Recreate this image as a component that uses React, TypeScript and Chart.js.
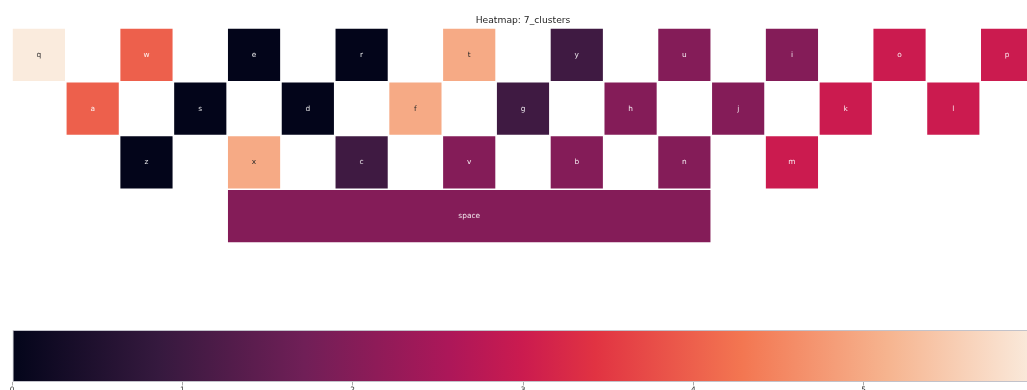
import React, { useEffect, useRef } from 'react';
import { Chart, registerables } from 'chart.js';

Chart.register(...registerables);

// Keyboard rows shown in the heatmap (top to bottom)
const rowNames = ['top', 'home', 'bottom', 'space'];

// One entry per key: label, row, starting column, width in columns, cluster id
const keyLabels = [
  'q', 'w', 'e', 'r', 't', 'y', 'u', 'i', 'o', 'p',
  'a', 's', 'd', 'f', 'g', 'h', 'j', 'k', 'l',
  'z', 'x', 'c', 'v', 'b', 'n', 'm',
  'space',
];
const keyRows = [
  0, 0, 0, 0, 0, 0, 0, 0, 0, 0,
  1, 1, 1, 1, 1, 1, 1, 1, 1,
  2, 2, 2, 2, 2, 2, 2,
  3,
];
const keyCols = [
  0, 2, 4, 6, 8, 10, 12, 14, 16, 18,
  1, 3, 5, 7, 9, 11, 13, 15, 17,
  2, 4, 6, 8, 10, 12, 14,
  4,
];
const keySpans = [
  1, 1, 1, 1, 1, 1, 1, 1, 1, 1,
  1, 1, 1, 1, 1, 1, 1, 1, 1,
  1, 1, 1, 1, 1, 1, 1,
  9,
];
const keyClusters = [
  6, 4, 0, 0, 5, 1, 2, 2, 3, 3,
  4, 0, 0, 5, 1, 2, 2, 3, 3,
  0, 5, 1, 2, 2, 2, 3,
  2,
];

const columnCount = 19;
const clusterMin = 0;
const clusterMax = 6;
const colorbarTicks = [0, 1, 2, 3, 4, 5];
const titleText = 'Heatmap: 7_clusters';

// "rocket" colour map as positioned stops
const rocketStops: [number, string][] = [
  [0, '#03051A'],
  [0.143, '#35193E'],
  [0.286, '#701F57'],
  [0.429, '#AD1759'],
  [0.5, '#CB1B4F'],
  [0.571, '#E13342'],
  [0.714, '#F37651'],
  [0.857, '#F6B48F'],
  [1, '#FAEBDD'],
];

const FONT = "'DejaVu Sans', 'Liberation Sans', sans-serif";

function hexToRgb(h: string): number[] {
  const n = parseInt(h.slice(1), 16);
  return [(n >> 16) & 255, (n >> 8) & 255, n & 255];
}

function rocket(t: number): number[] {
  const v = Math.min(1, Math.max(0, t));
  for (let i = 1; i < rocketStops.length; i++) {
    const [p1, c1] = rocketStops[i];
    const [p0, c0] = rocketStops[i - 1];
    if (v <= p1) {
      const f = (v - p0) / (p1 - p0 || 1);
      const a = hexToRgb(c0);
      const b = hexToRgb(c1);
      return a.map((x, k) => Math.round(x + (b[k] - x) * f));
    }
  }
  return hexToRgb(rocketStops[rocketStops.length - 1][1]);
}

function clusterColor(c: number): string {
  const [r, g, b] = rocket((c - clusterMin) / (clusterMax - clusterMin));
  return `rgb(${r}, ${g}, ${b})`;
}

// Dark annotation on light cells, white on dark ones
function annotColor(c: number): string {
  const lin = rocket((c - clusterMin) / (clusterMax - clusterMin)).map((x) => {
    const s = x / 255;
    return s <= 0.03928 ? s / 12.92 : Math.pow((s + 0.055) / 1.055, 2.4);
  });
  const lum = 0.2126 * lin[0] + 0.7152 * lin[1] + 0.0722 * lin[2];
  return lum > 0.408 ? '#262626' : 'rgba(255, 255, 255, 0.9)';
}

const keyLabelPlugin = {
  id: 'keyLabels',
  afterDatasetsDraw(chart: any) {
    const meta = chart.getDatasetMeta(0);
    const ctx = chart.ctx;
    ctx.save();
    ctx.font = `7.4px ${FONT}`;
    ctx.textAlign = 'center';
    ctx.textBaseline = 'middle';
    meta.data.forEach((el: any, i: number) => {
      const { x, y, base } = el.getProps(['x', 'y', 'base'], true);
      ctx.fillStyle = annotColor(keyClusters[i]);
      ctx.fillText(keyLabels[i], (x + base) / 2, y);
    });
    ctx.restore();
  },
};

export default function App() {
  const heatRef = useRef<HTMLCanvasElement>(null);
  const barRef = useRef<HTMLCanvasElement>(null);

  useEffect(() => {
    if (!heatRef.current || !barRef.current) return;

    const heat = new Chart(heatRef.current, {
      type: 'bar',
      data: {
        labels: rowNames,
        datasets: [
          {
            data: keyLabels.map((_, i) => ({
              x: [keyCols[i], keyCols[i] + keySpans[i]],
              y: rowNames[keyRows[i]],
            })) as any,
            backgroundColor: keyClusters.map(clusterColor),
            borderColor: 'rgba(255, 255, 255, 0.55)',
            borderWidth: 0.8,
            borderSkipped: false,
            categoryPercentage: 1,
            barPercentage: 1,
            inflateAmount: 0,
          },
        ],
      },
      options: {
        indexAxis: 'y',
        responsive: false,
        animation: false,
        devicePixelRatio: 1,
        layout: { padding: { left: 12, right: 6, top: 0, bottom: 7 } },
        scales: {
          x: { type: 'linear', min: 0, max: columnCount, display: false },
          y: { type: 'category', display: false },
        },
        plugins: {
          legend: { display: false },
          tooltip: { enabled: false },
          title: {
            display: true,
            text: titleText,
            color: '#262626',
            font: { family: FONT, size: 9.2, weight: 'normal' },
            padding: { top: 14.8, bottom: 2.16 },
          },
        },
      },
      plugins: [keyLabelPlugin],
    });

    const colorbar = new Chart(barRef.current, {
      type: 'bar',
      data: {
        labels: ['cluster'],
        datasets: [
          {
            data: [[clusterMin, clusterMax]] as any,
            backgroundColor: (c: any) => {
              const chart = c.chart;
              if (!chart.chartArea) return 'transparent';
              const sx = chart.scales.x;
              const g = chart.ctx.createLinearGradient(
                sx.getPixelForValue(clusterMin), 0,
                sx.getPixelForValue(clusterMax), 0,
              );
              rocketStops.forEach(([p, col]) => g.addColorStop(p, col));
              return g;
            },
            borderColor: '#c2c2ca',
            borderWidth: 1,
            borderSkipped: false,
            categoryPercentage: 1,
            barPercentage: 1,
            inflateAmount: 0,
          },
        ],
      },
      options: {
        indexAxis: 'y',
        responsive: false,
        animation: false,
        devicePixelRatio: 1,
        layout: { padding: { left: 12, right: 6, top: 10, bottom: 0 } },
        scales: {
          x: {
            type: 'linear',
            min: clusterMin,
            max: clusterMax,
            position: 'bottom',
            afterBuildTicks: (s: any) => {
              s.ticks = colorbarTicks.map((v) => ({ value: v }));
            },
            afterFit: (s: any) => {
              s.height = 20;
            },
            grid: {
              display: true,
              drawOnChartArea: false,
              drawTicks: true,
              tickLength: 3.5,
              color: '#a8a8a8',
              lineWidth: 1,
            },
            border: { display: false },
            ticks: {
              color: '#333333',
              padding: 0.5,
              maxRotation: 0,
              font: { family: FONT, size: 7.4 },
            },
          },
          y: { type: 'category', display: false },
        },
        plugins: {
          legend: { display: false },
          tooltip: { enabled: false },
          title: { display: false },
        },
      },
    });

    return () => {
      heat.destroy();
      colorbar.destroy();
    };
  }, []);

  return (
    <div
      style={{
        position: 'fixed',
        left: 0,
        top: 0,
        width: 1027,
        height: 390,
        overflow: 'hidden',
        background: '#ffffff',
      }}
    >
      <canvas
        ref={heatRef}
        width={1040}
        height={250}
        style={{ position: 'absolute', left: 0, top: 0, width: 1040, height: 250 }}
      />
      <canvas
        ref={barRef}
        width={1040}
        height={82}
        style={{ position: 'absolute', left: 0, top: 320, width: 1040, height: 82 }}
      />
    </div>
  );
}
